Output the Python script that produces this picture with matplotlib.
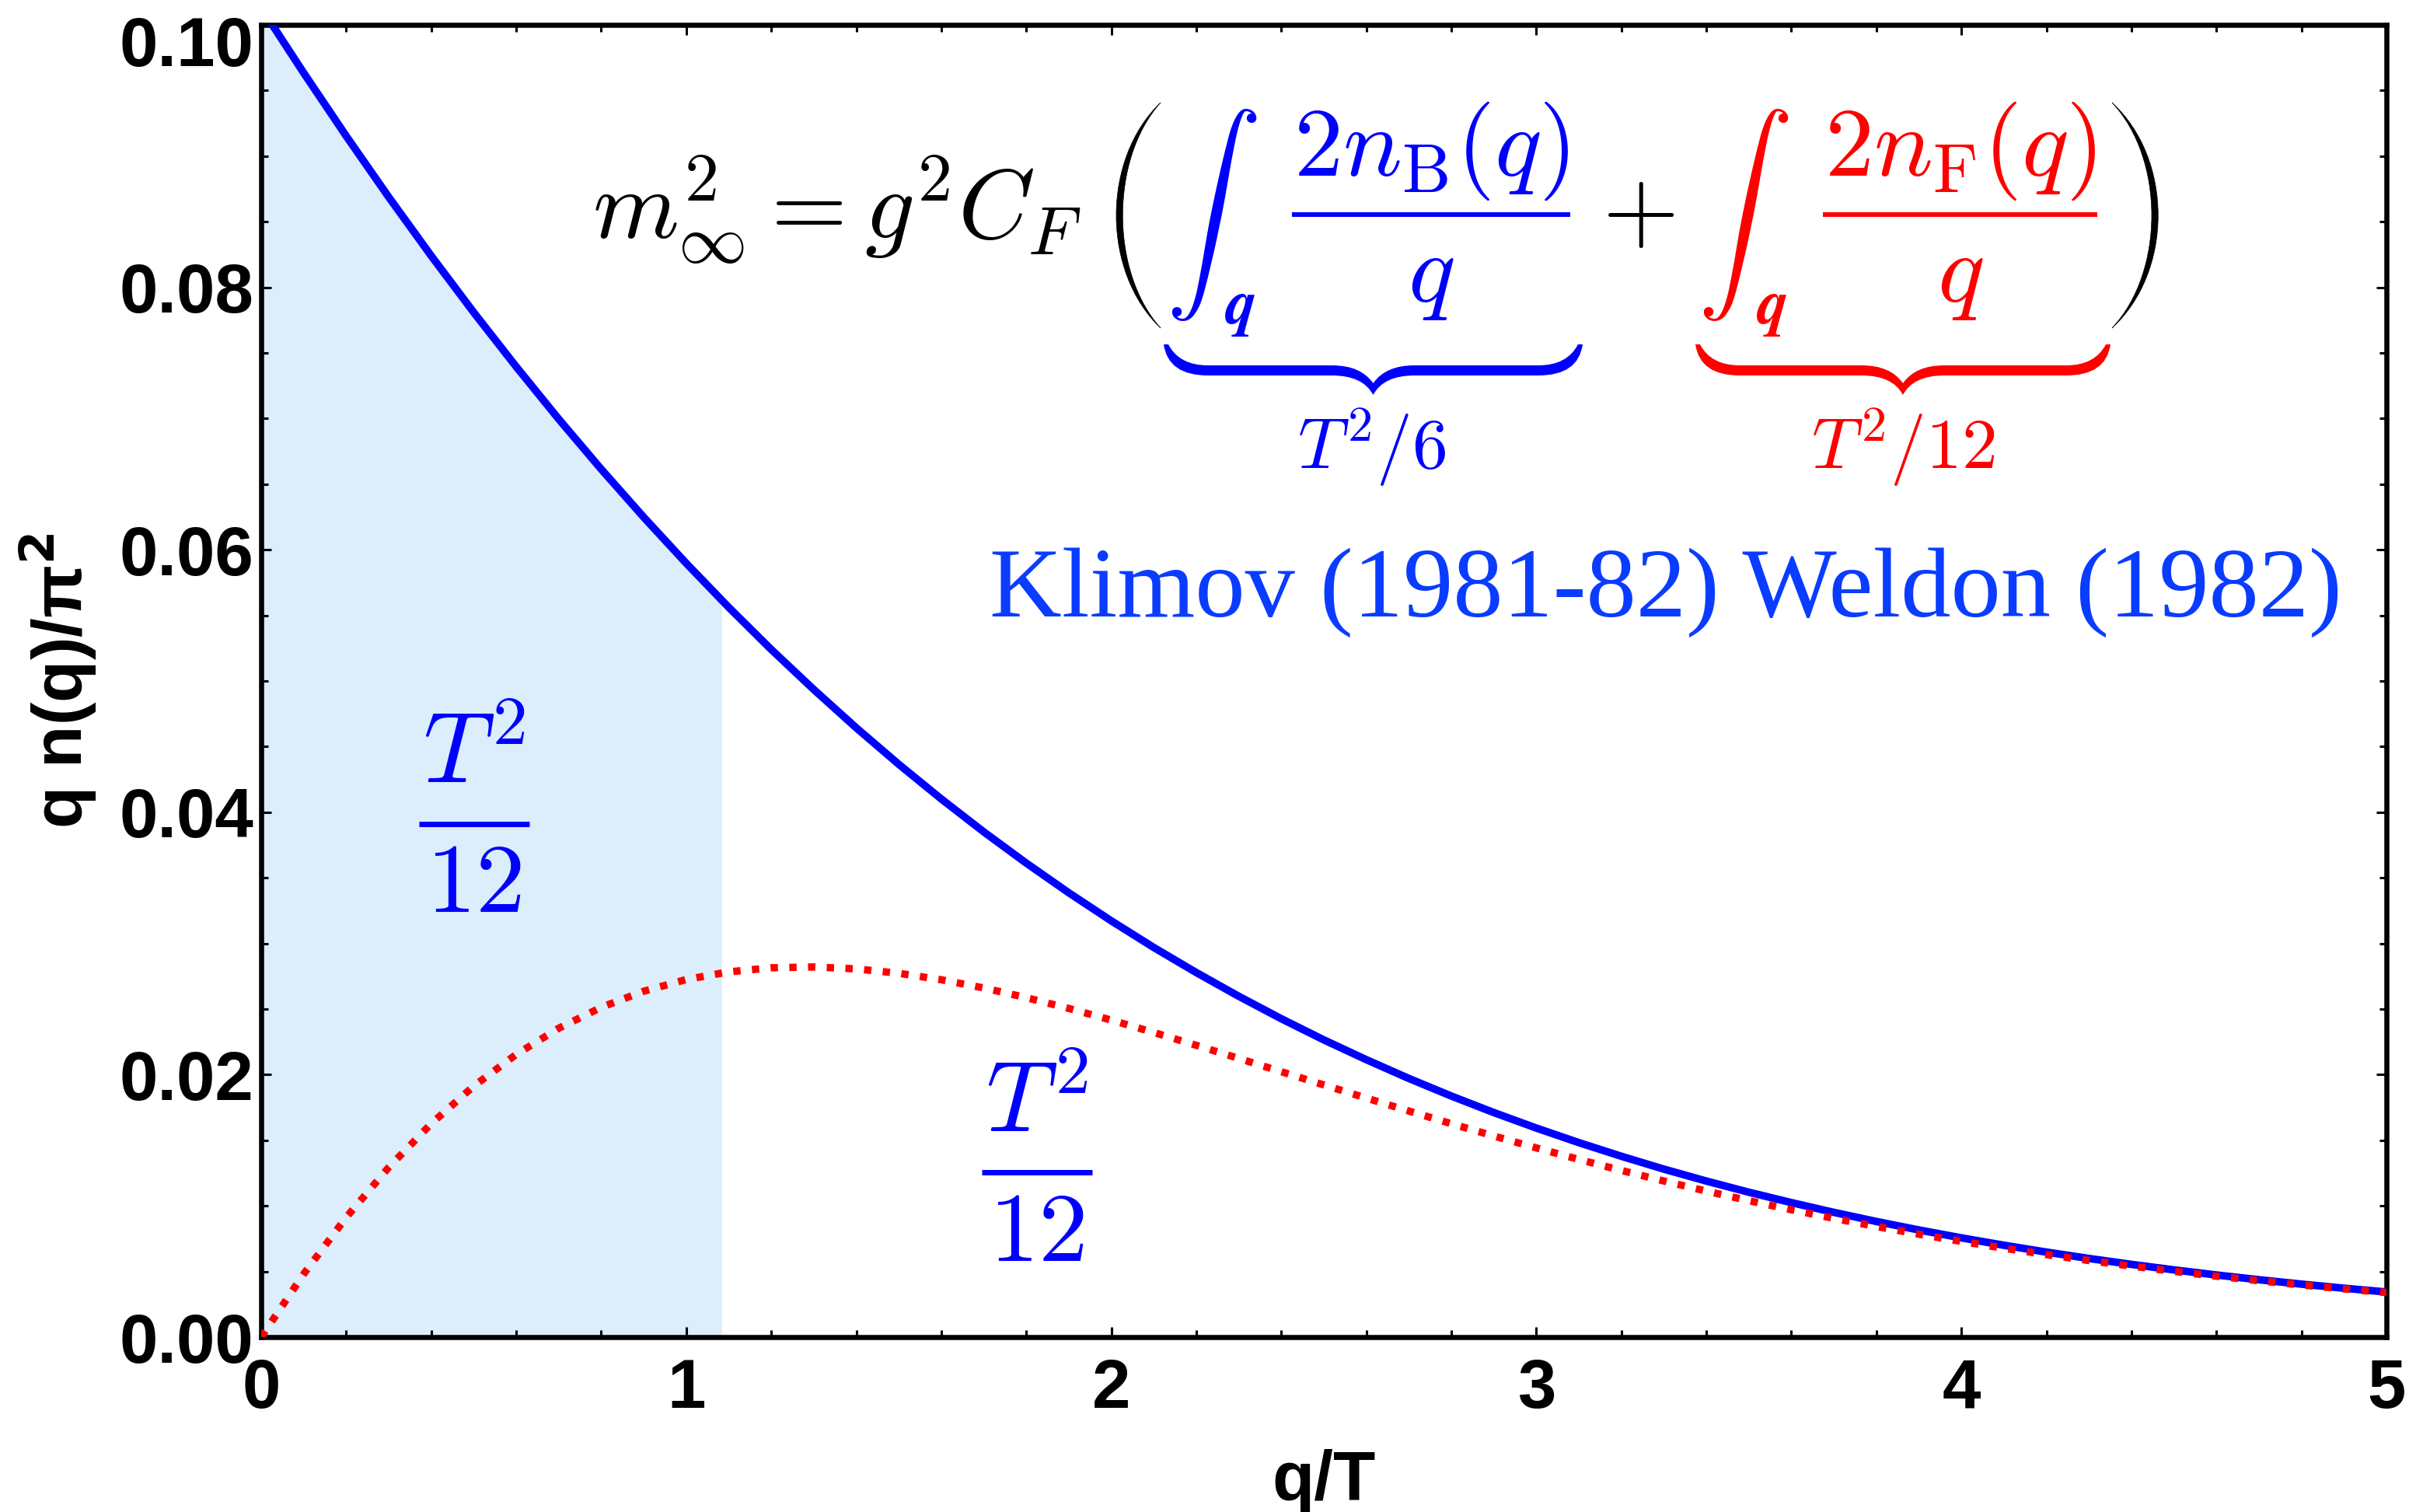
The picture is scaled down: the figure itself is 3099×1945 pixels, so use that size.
import matplotlib
matplotlib.use("Agg")
import matplotlib.pyplot as plt
import numpy as np
from matplotlib.path import Path
from matplotlib.patches import PathPatch
from matplotlib.lines import Line2D
from matplotlib.transforms import Affine2D, ScaledTranslation

# values: q n(q)/pi^2 against q/T
q_vals = [0.0, 0.1, 0.2, 0.3, 0.4, 0.5, 0.6, 0.7, 0.8, 0.9,
          1.0, 1.1, 1.2, 1.3, 1.4, 1.5, 1.6, 1.7, 1.8, 1.9,
          2.0, 2.1, 2.2, 2.3, 2.4, 2.5, 2.6, 2.7, 2.8, 2.9,
          3.0, 3.1, 3.2, 3.3, 3.4, 3.5, 3.6, 3.7, 3.8, 3.9,
          4.0, 4.1, 4.2, 4.3, 4.4, 4.5, 4.6, 4.7, 4.8, 4.9, 5.0]
bose_vals = [0.1013, 0.09634, 0.09153, 0.08688, 0.08240, 0.07809, 0.07395, 0.06996, 0.06614, 0.06248,
             0.05897, 0.05561, 0.05240, 0.04935, 0.04643, 0.04365, 0.04101, 0.03850, 0.03612, 0.03386,
             0.03172, 0.02969, 0.02778, 0.02597, 0.02426, 0.02265, 0.02114, 0.01971, 0.01837, 0.01711,
             0.01593, 0.01482, 0.01378, 0.01280, 0.01189, 0.01104, 0.01025, 0.009504, 0.008810, 0.008164,
             0.007562, 0.007001, 0.006478, 0.005993, 0.005541, 0.005122, 0.004733, 0.004371, 0.004036, 0.003725,
             0.003437]
fermi_vals = [0.0, 0.004813, 0.009122, 0.012935, 0.016265, 0.019126, 0.021542, 0.023534, 0.025130, 0.026358,
              0.027249, 0.027834, 0.028144, 0.028209, 0.028060, 0.027725, 0.027232, 0.026606, 0.025870, 0.025047,
              0.024156, 0.023213, 0.022235, 0.021235, 0.020225, 0.019215, 0.018214, 0.017227, 0.016263, 0.015324,
              0.014416, 0.013540, 0.012699, 0.011894, 0.011125, 0.010395, 0.009701, 0.009045, 0.008425, 0.007840,
              0.007290, 0.006772, 0.006287, 0.005832, 0.005407, 0.005009, 0.004638, 0.004292, 0.003970, 0.003670,
              0.003391]
fill_end = 1.083
x_ticks = [0, 1, 2, 3, 4, 5]
y_ticks = [0.00, 0.02, 0.04, 0.06, 0.08, 0.10]

W, H = 3099, 1945
plt.rcParams['mathtext.fontset'] = 'cm'
fig = plt.figure(figsize=(W / 100, H / 100), dpi=100)
ax = fig.add_axes([336 / W, 1 - 1720 / H, 2734 / W, 1688 / H])

q = np.array(q_vals)
nb = np.array(bose_vals)
nf = np.array(fermi_vals)

# shaded part under the bose curve
qs = np.append(q[q < fill_end], fill_end)
ys = np.append(nb[q < fill_end], np.interp(fill_end, q, nb))
ax.fill_between(qs, 0, ys, color='#DCEDFC', lw=0, zorder=1)

ax.plot(q, nb, color='#0000FF', lw=7, zorder=3, solid_capstyle='butt')
ax.plot(q, nf, color='#FF0000', lw=6.8, ls=(0, (1, 1.55)), dash_capstyle='butt', zorder=4)

ax.set_xlim(0, 5)
ax.set_ylim(0, 0.1)
ax.set_xticks(x_ticks)
ax.set_yticks(y_ticks)
ax.set_xticks(np.arange(0, 5.01, 0.2), minor=True)
ax.set_yticks(np.arange(0, 0.1001, 0.005), minor=True)
ax.set_xticklabels([str(t) for t in x_ticks])
ax.set_yticklabels(['%.2f' % t for t in y_ticks])
ax.tick_params(which='both', direction='in', top=True, right=True, width=2.2)
ax.tick_params(which='major', length=9.5)
ax.tick_params(which='minor', length=6.5)
ax.tick_params(axis='x', pad=19)
ax.tick_params(axis='y', pad=7)
for lab in ax.get_xticklabels() + ax.get_yticklabels():
    lab.set_fontfamily('Liberation Sans')
    lab.set_fontweight('bold')
    lab.set_fontsize(64)
# top label sits a bit lower, inside the image
top_lab = ax.get_yticklabels()[-1]
top_lab.set_transform(top_lab.get_transform() + ScaledTranslation(0, -0.2, fig.dpi_scale_trans))
for s in ax.spines.values():
    s.set_linewidth(4.7)
ax.set_xlabel('q/T', fontfamily='Liberation Sans', fontweight='bold', fontsize=64, labelpad=24)
ax.set_ylabel(r'q n(q)/π$^{\mathbf{2}}$', fontfamily='Liberation Sans', fontweight='bold', fontsize=64,
              labelpad=19, math_fontfamily='dejavusans')

# pixel units of the image (y downwards) for the annotations
tr = Affine2D().scale(1 / W, -1 / H).translate(0, 1) + fig.transFigure


def frac(num, den, xc, bar_y, bar_x0, bar_x1, num_base, den_base, col, size, bar_lw):
    fig.text(xc, num_base, num, transform=tr, fontsize=size, color=col, ha='center', va='baseline')
    fig.text(xc, den_base, den, transform=tr, fontsize=size, color=col, ha='center', va='baseline')
    fig.add_artist(Line2D([bar_x0, bar_x1], [bar_y, bar_y], transform=tr, color=col, lw=bar_lw,
                          solid_capstyle='butt'))


# T^2/12 fractions inside the plot
frac(r'$T^2$', r'$12$', 610, 1060, 539, 681, 1008, 1173, '#0000FF', 92, 5)
frac(r'$T^2$', r'$12$', 1334, 1508, 1263, 1405, 1457, 1622, '#0000FF', 92, 5)

# formula on top
fig.text(762, 308, r'$m_\infty^2 = g^2 C_F$', transform=tr, fontsize=91, color='black', ha='left', va='baseline')
fig.text(2108, 308, r'$+$', transform=tr, fontsize=91, color='black', ha='center', va='baseline')
for xi, col, sub, xq, bx0, bx1 in [(1559, '#0000FF', 'B', 1596, 1662, 2020),
                                   (2243, '#FF0000', 'F', 2280, 2345, 2698)]:
    fig.text(xi, 277, r'$\int$', transform=tr, fontsize=88, color=col, ha='center', va='center')
    fig.text(xq, 416, 'q', transform=tr, fontsize=58, color=col, ha='center', va='baseline',
             family='STIXGeneral', weight='bold', style='italic')
    frac(r'$2n_{\mathrm{%s}}(q)$' % sub, r'$q$', (bx0 + bx1) / 2, 276, bx0, bx1, 226, 388, col, 91, 4.3)


def paren(xe, xo, xi, col='black', y0=132, y1=422):
    h = y1 - y0
    verts = [(xe, y0), (xo, y0 + 0.25 * h), (xo, y1 - 0.25 * h), (xe, y1),
             (xi, y1 - 0.25 * h), (xi, y0 + 0.25 * h), (xe, y0), (xe, y0)]
    codes = [Path.MOVETO, Path.CURVE4, Path.CURVE4, Path.CURVE4,
             Path.CURVE4, Path.CURVE4, Path.CURVE4, Path.CLOSEPOLY]
    fig.add_artist(PathPatch(Path(verts, codes), transform=tr, facecolor=col, edgecolor=col, lw=0.5))


def brace(x0, x1, col):
    xc = (x0 + x1) / 2
    yt, bt, bb, cusp, tip = 443, 470, 483, 493, 508
    r, r2, d = 57, 53, 6
    verts = [(x0, yt),
             (x0 + 0.1 * r, bb), (x0 + r, bb),
             (xc - r2, bb),
             (xc - 0.25 * r2, bb), (xc, tip),
             (xc + 0.25 * r2, bb), (xc + r2, bb),
             (x1 - r, bb),
             (x1 - 0.1 * r, bb), (x1, yt),
             (x1 - d, yt),
             (x1 - 0.35 * r, bt), (x1 - r, bt),
             (xc + r2, bt),
             (xc + 0.3 * r2, bt), (xc, cusp),
             (xc - 0.3 * r2, bt), (xc - r2, bt),
             (x0 + r, bt),
             (x0 + 0.35 * r, bt), (x0 + d, yt),
             (x0, yt)]
    C3 = Path.CURVE3
    codes = [Path.MOVETO, C3, C3, Path.LINETO, C3, C3, C3, C3, Path.LINETO, C3, C3,
             Path.LINETO, C3, C3, Path.LINETO, C3, C3, C3, C3, Path.LINETO, C3, C3, Path.CLOSEPOLY]
    fig.add_artist(PathPatch(Path(verts, codes), transform=tr, facecolor=col, edgecolor='none'))


paren(1493, 1417, 1428)
paren(2717, 2796, 2785)
brace(1497, 2036, '#0000FF')
brace(2181, 2715, '#FF0000')
fig.text(1765, 603, r'$T^2/6$', transform=tr, fontsize=66, color='#0000FF', ha='center', va='baseline')
fig.text(2448, 603, r'$T^2/12$', transform=tr, fontsize=66, color='#FF0000', ha='center', va='baseline')

fig.text(1273, 793, 'Klimov (1981-82) Weldon (1982)', transform=tr, fontsize=92.5, color='#0A3CFF',
         family='Liberation Serif', ha='left', va='baseline')

fig.savefig('out.png', dpi=100)
